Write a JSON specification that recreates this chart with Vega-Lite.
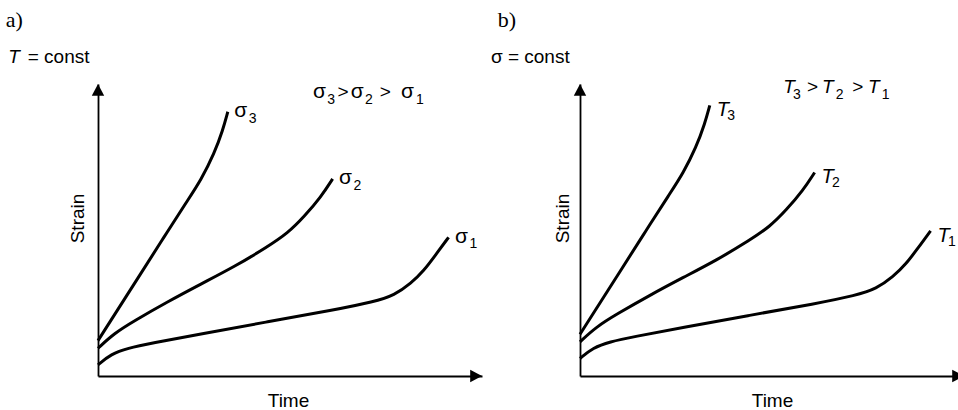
{
  "$schema": "https://vega.github.io/schema/vega-lite/v6.json",
  "background": "white",
  "padding": {"left": 5, "top": 9, "right": 0, "bottom": 0},
  "bounds": "flush",
  "spacing": 98,
  "datasets": {
    "curvesA": [
      {"curve": "3", "t": 0, "s": 12.1}, {"curve": "3", "t": 11.2, "s": 35.2}, {"curve": "3", "t": 17, "s": 47.2},
      {"curve": "3", "t": 23.4, "s": 60.3}, {"curve": "3", "t": 26.8, "s": 67.1}, {"curve": "3", "t": 30.3, "s": 76.3},
      {"curve": "3", "t": 32.5, "s": 84.2}, {"curve": "3", "t": 33.8, "s": 90.5},
      {"curve": "2", "t": 0, "s": 9.5}, {"curve": "2", "t": 4.2, "s": 14.6}, {"curve": "2", "t": 9.45, "s": 18.9},
      {"curve": "2", "t": 18.1, "s": 25.4}, {"curve": "2", "t": 26.8, "s": 31.5}, {"curve": "2", "t": 35.5, "s": 37.4},
      {"curve": "2", "t": 44.2, "s": 44.3}, {"curve": "2", "t": 49.4, "s": 48.9}, {"curve": "2", "t": 53.7, "s": 54.6},
      {"curve": "2", "t": 58.1, "s": 61.4}, {"curve": "2", "t": 61.1, "s": 67.5},
      {"curve": "1", "t": 0, "s": 3.8}, {"curve": "1", "t": 3.4, "s": 7.5}, {"curve": "1", "t": 7.7, "s": 9.5},
      {"curve": "1", "t": 13.8, "s": 11.2}, {"curve": "1", "t": 26.8, "s": 14.4}, {"curve": "1", "t": 44.2, "s": 18.6},
      {"curve": "1", "t": 61.5, "s": 22.6}, {"curve": "1", "t": 71.9, "s": 25.4}, {"curve": "1", "t": 77.2, "s": 27.7},
      {"curve": "1", "t": 81.5, "s": 31.7}, {"curve": "1", "t": 85.0, "s": 36.3}, {"curve": "1", "t": 87.6, "s": 40.9},
      {"curve": "1", "t": 91.3, "s": 47.5}
    ],
    "curvesB": [
      {"curve": "3", "t": 0, "s": 14.3}, {"curve": "3", "t": 11.2, "s": 37.4}, {"curve": "3", "t": 17, "s": 49.4},
      {"curve": "3", "t": 23.4, "s": 62.5}, {"curve": "3", "t": 26.8, "s": 69.3}, {"curve": "3", "t": 30.3, "s": 78.5},
      {"curve": "3", "t": 32.5, "s": 86.4}, {"curve": "3", "t": 33.8, "s": 92.7},
      {"curve": "2", "t": 0, "s": 11.7}, {"curve": "2", "t": 4.2, "s": 16.8}, {"curve": "2", "t": 9.45, "s": 21.1},
      {"curve": "2", "t": 18.1, "s": 27.6}, {"curve": "2", "t": 26.8, "s": 33.7}, {"curve": "2", "t": 35.5, "s": 39.6},
      {"curve": "2", "t": 44.2, "s": 46.5}, {"curve": "2", "t": 49.4, "s": 51.1}, {"curve": "2", "t": 53.7, "s": 56.8},
      {"curve": "2", "t": 58.1, "s": 63.6}, {"curve": "2", "t": 61.1, "s": 69.7},
      {"curve": "1", "t": 0, "s": 6.0}, {"curve": "1", "t": 3.4, "s": 9.7}, {"curve": "1", "t": 7.7, "s": 11.7},
      {"curve": "1", "t": 13.8, "s": 13.4}, {"curve": "1", "t": 26.8, "s": 16.6}, {"curve": "1", "t": 44.2, "s": 20.8},
      {"curve": "1", "t": 61.5, "s": 24.8}, {"curve": "1", "t": 71.9, "s": 27.6}, {"curve": "1", "t": 77.2, "s": 29.9},
      {"curve": "1", "t": 81.5, "s": 33.9}, {"curve": "1", "t": 85.0, "s": 38.5}, {"curve": "1", "t": 87.6, "s": 43.1},
      {"curve": "1", "t": 91.3, "s": 49.7}
    ],
    "arrows": [
      {"dir": "up", "t": 0, "s": 100},
      {"dir": "right", "t": 100, "s": 0}
    ],
    "notesA": [
      {"role": "head", "text": "a)", "t": -24.0, "s": 119.5},
      {"role": "ital", "text": "T", "t": -23.4, "s": 107.1},
      {"role": "plain", "text": "= const", "t": -18.3, "s": 107.1},
      {"role": "sym", "text": "σ", "t": 56.0, "s": 95.2},
      {"role": "sub", "text": "3", "t": 59.7, "s": 93.2},
      {"role": "plain", "text": ">", "t": 62.4, "s": 95.2},
      {"role": "sym", "text": "σ", "t": 65.8, "s": 95.2},
      {"role": "sub", "text": "2", "t": 69.5, "s": 93.2},
      {"role": "plain", "text": ">", "t": 73.4, "s": 95.2},
      {"role": "sym", "text": "σ", "t": 78.9, "s": 95.2},
      {"role": "sub", "text": "1", "t": 82.8, "s": 93.2}
    ],
    "notesB": [
      {"role": "head", "text": "b)", "t": -21.4, "s": 119.5},
      {"role": "plain", "text": "σ = const", "t": -23.2, "s": 107.1},
      {"role": "ital", "text": "T", "t": 52.9, "s": 96.9},
      {"role": "sub", "text": "3", "t": 55.5, "s": 94.9},
      {"role": "plain", "text": ">", "t": 59.1, "s": 96.9},
      {"role": "ital", "text": "T", "t": 63.0, "s": 96.9},
      {"role": "sub", "text": "2", "t": 66.6, "s": 94.9},
      {"role": "plain", "text": ">", "t": 70.9, "s": 96.9},
      {"role": "ital", "text": "T", "t": 75.0, "s": 96.9},
      {"role": "sub", "text": "1", "t": 78.6, "s": 94.9}
    ]
  },
  "hconcat": [
    {
      "width": 384,
      "height": 292,
      "encoding": {
        "x": {"field": "t", "type": "quantitative", "scale": {"domain": [0, 100], "nice": false, "zero": false},
              "axis": {"title": "Time", "titleX": 190, "titleY": 30}},
        "y": {"field": "s", "type": "quantitative", "scale": {"domain": [0, 100], "nice": false, "zero": false},
              "axis": {"title": "Strain", "titleX": -15, "titleY": 134}}
      },
      "layer": [
        {
          "data": {"name": "curvesA"},
          "mark": {"type": "line", "interpolate": "basis", "color": "#000", "strokeWidth": 3},
          "encoding": {"detail": {"field": "curve"}}
        },
        {
          "data": {"name": "arrows"},
          "mark": {"type": "point", "filled": true, "color": "#000", "opacity": 1, "size": 154, "strokeWidth": 0},
          "encoding": {
            "shape": {"field": "dir", "type": "nominal", "legend": null,
                      "scale": {"domain": ["up", "right"], "range": ["M-1,1.9L1,1.9L0,0Z", "M0,0L-1.9,-1L-1.9,1Z"]}}
          }
        },
        {
          "data": {"name": "curvesA"},
          "transform": [
            {"window": [{"op": "row_number", "as": "k"}], "groupby": ["curve"], "sort": [{"field": "t", "order": "descending"}]},
            {"filter": "datum.k == 1"}
          ],
          "mark": {"type": "text", "align": "left", "baseline": "alphabetic", "dx": 6.5, "dy": 5.5, "fontSize": 21},
          "encoding": {"text": {"value": "σ"}}
        },
        {
          "data": {"name": "curvesA"},
          "transform": [
            {"window": [{"op": "row_number", "as": "k"}], "groupby": ["curve"], "sort": [{"field": "t", "order": "descending"}]},
            {"filter": "datum.k == 1"}
          ],
          "mark": {"type": "text", "align": "left", "baseline": "alphabetic", "dx": 21, "dy": 11, "fontSize": 14},
          "encoding": {"text": {"field": "curve"}}
        },
        {
          "data": {"name": "notesA"},
          "transform": [{"filter": "datum.role == 'head'"}],
          "mark": {"type": "text", "align": "left", "baseline": "alphabetic", "font": "Liberation Serif", "fontSize": 22},
          "encoding": {"text": {"field": "text"}}
        },
        {
          "data": {"name": "notesA"},
          "transform": [{"filter": "datum.role == 'plain'"}],
          "mark": {"type": "text", "align": "left", "baseline": "alphabetic", "fontSize": 19},
          "encoding": {"text": {"field": "text"}}
        },
        {
          "data": {"name": "notesA"},
          "transform": [{"filter": "datum.role == 'sym'"}],
          "mark": {"type": "text", "align": "left", "baseline": "alphabetic", "fontSize": 21},
          "encoding": {"text": {"field": "text"}}
        },
        {
          "data": {"name": "notesA"},
          "transform": [{"filter": "datum.role == 'ital'"}],
          "mark": {"type": "text", "align": "left", "baseline": "alphabetic", "fontSize": 19, "fontStyle": "italic"},
          "encoding": {"text": {"field": "text"}}
        },
        {
          "data": {"name": "notesA"},
          "transform": [{"filter": "datum.role == 'sub'"}],
          "mark": {"type": "text", "align": "left", "baseline": "alphabetic", "fontSize": 14},
          "encoding": {"text": {"field": "text"}}
        }
      ]
    },
    {
      "width": 384,
      "height": 292,
      "encoding": {
        "x": {"field": "t", "type": "quantitative", "scale": {"domain": [0, 100], "nice": false, "zero": false},
              "axis": {"title": "Time", "titleX": 192, "titleY": 30}},
        "y": {"field": "s", "type": "quantitative", "scale": {"domain": [0, 100], "nice": false, "zero": false},
              "axis": {"title": "Strain", "titleX": -12, "titleY": 134}}
      },
      "layer": [
        {
          "data": {"name": "curvesB"},
          "mark": {"type": "line", "interpolate": "basis", "color": "#000", "strokeWidth": 3},
          "encoding": {"detail": {"field": "curve"}}
        },
        {
          "data": {"name": "arrows"},
          "mark": {"type": "point", "filled": true, "color": "#000", "opacity": 1, "size": 154, "strokeWidth": 0},
          "encoding": {
            "shape": {"field": "dir", "type": "nominal", "legend": null,
                      "scale": {"domain": ["up", "right"], "range": ["M-1,1.9L1,1.9L0,0Z", "M0,0L-1.9,-1L-1.9,1Z"]}}
          }
        },
        {
          "data": {"name": "curvesB"},
          "transform": [
            {"window": [{"op": "row_number", "as": "k"}], "groupby": ["curve"], "sort": [{"field": "t", "order": "descending"}]},
            {"filter": "datum.k == 1"}
          ],
          "mark": {"type": "text", "align": "left", "baseline": "alphabetic", "dx": 7, "dy": 11, "fontSize": 20, "fontStyle": "italic"},
          "encoding": {"text": {"value": "T"}}
        },
        {
          "data": {"name": "curvesB"},
          "transform": [
            {"window": [{"op": "row_number", "as": "k"}], "groupby": ["curve"], "sort": [{"field": "t", "order": "descending"}]},
            {"filter": "datum.k == 1"}
          ],
          "mark": {"type": "text", "align": "left", "baseline": "alphabetic", "dx": 17.5, "dy": 15, "fontSize": 14},
          "encoding": {"text": {"field": "curve"}}
        },
        {
          "data": {"name": "notesB"},
          "transform": [{"filter": "datum.role == 'head'"}],
          "mark": {"type": "text", "align": "left", "baseline": "alphabetic", "font": "Liberation Serif", "fontSize": 22},
          "encoding": {"text": {"field": "text"}}
        },
        {
          "data": {"name": "notesB"},
          "transform": [{"filter": "datum.role == 'plain'"}],
          "mark": {"type": "text", "align": "left", "baseline": "alphabetic", "fontSize": 19},
          "encoding": {"text": {"field": "text"}}
        },
        {
          "data": {"name": "notesB"},
          "transform": [{"filter": "datum.role == 'ital'"}],
          "mark": {"type": "text", "align": "left", "baseline": "alphabetic", "fontSize": 19, "fontStyle": "italic"},
          "encoding": {"text": {"field": "text"}}
        },
        {
          "data": {"name": "notesB"},
          "transform": [{"filter": "datum.role == 'sub'"}],
          "mark": {"type": "text", "align": "left", "baseline": "alphabetic", "fontSize": 14},
          "encoding": {"text": {"field": "text"}}
        }
      ]
    }
  ],
  "config": {
    "view": {"stroke": null},
    "font": "Liberation Sans",
    "text": {"color": "#000"},
    "axis": {
      "domainColor": "#000",
      "domainWidth": 1.8,
      "ticks": false,
      "labels": false,
      "grid": false,
      "titleFont": "Liberation Sans",
      "titleFontSize": 19,
      "titleFontWeight": "normal",
      "titleColor": "#000",
      "titleBaseline": "alphabetic"
    }
  }
}
